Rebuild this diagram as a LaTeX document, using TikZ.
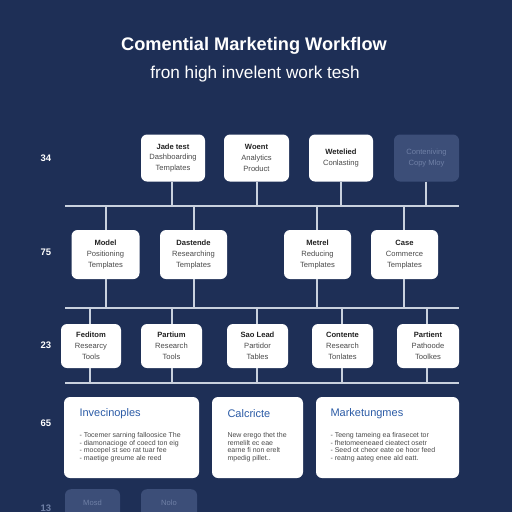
\documentclass[tikz,border=0pt]{standalone}
\usepackage{fontspec}
\setmainfont{Liberation Sans}
\usetikzlibrary{positioning}
\definecolor{bgnavy}{HTML}{1E2F56}
\definecolor{fadebox}{HTML}{3C4E78}
\definecolor{fadetext}{HTML}{6F80A6}
\definecolor{linegray}{HTML}{C9D1DE}
\definecolor{cardblue}{HTML}{2B5BA6}
\definecolor{darktext}{HTML}{222222}
\definecolor{bodygray}{HTML}{4A4A4A}
\tikzset{
  wbox/.style={draw=none, fill=white, rounded corners=6pt, inner sep=0pt},
  fbox/.style={draw=none, fill=fadebox, rounded corners=6pt, inner sep=0pt},
  btext/.style={align=center, font=\fontsize{7.6}{10.8}\selectfont, text=bodygray},
  ftext/.style={align=center, font=\fontsize{7.6}{10.8}\selectfont, text=fadetext},
  rowlabel/.style={font=\bfseries\fontsize{9.5}{10}\selectfont, text=white},
  conn/.style={draw=linegray, line width=1.1pt},
  cardtitle/.style={anchor=west, font=\fontsize{11}{12}\selectfont, text=cardblue},
  cardbody/.style={anchor=north west, align=left, font=\fontsize{7}{7.6}\selectfont, text=bodygray},
}
\newcommand{\hd}[1]{\textcolor{darktext}{\bfseries #1}}
\begin{document}
\begin{tikzpicture}[x=1pt,y=-1pt]
\fill[bgnavy] (0,0) rectangle (512,512);
\useasboundingbox (0,0) rectangle (512,512);

% title
\node[font=\bfseries\fontsize{18.2}{20}\selectfont, text=white] (title) at (254,46) {Comential Marketing Workflow};
\node[font=\fontsize{17.2}{19}\selectfont, text=white] (subtitle) at (255,74) {fron high invelent work tesh};

% row labels
\node[rowlabel] (l1) at (46,158) {34};
\node[rowlabel] (l2) at (46,252) {75};
\node[rowlabel] (l3) at (46,345) {23};
\node[rowlabel] (l4) at (46,423) {65};
\node[rowlabel, text=fadetext] (l5) at (46,508) {13};

% row 1
\node[wbox, minimum width=64pt, minimum height=47pt] (a1) at (173,158) {};
\node[btext] at (a1) {\hd{Jade test}\\Dashboarding\\Templates};
\node[wbox, minimum width=65pt, minimum height=47pt] (a2) at (256.5,158) {};
\node[btext] at (a2) {\hd{Woent}\\Analytics\\Product};
\node[wbox, minimum width=64pt, minimum height=47pt] (a3) at (341,158) {};
\node[btext] at (a3) {\hd{Wetelied}\\Conlasting};
\node[fbox, minimum width=65pt, minimum height=47pt] (a4) at (426.5,158) {};
\node[ftext] at (a4) {Conteniving\\Copy Mloy};

% bus 1
\coordinate (h1l) at (65,206); \coordinate (h1r) at (459,206);
\draw[conn] (h1l) -- (h1r);
\foreach \n/\x in {a1/172,a2/257,a3/341,a4/426}{
  \draw[conn] (\n.south -| \x,0) -- (\x,206);
}

% row 2
\node[wbox, minimum width=68pt, minimum height=49pt] (b1) at (105.5,254.5) {};
\node[btext] at (b1) {\hd{Model}\\Positioning\\Templates};
\node[wbox, minimum width=67pt, minimum height=49pt] (b2) at (193.5,254.5) {};
\node[btext] at (b2) {\hd{Dastende}\\Researching\\Templates};
\node[wbox, minimum width=67pt, minimum height=49pt] (b3) at (317.5,254.5) {};
\node[btext] at (b3) {\hd{Metrel}\\Reducing\\Templates};
\node[wbox, minimum width=67pt, minimum height=49pt] (b4) at (404.5,254.5) {};
\node[btext] at (b4) {\hd{Case}\\Commerce\\Templates};

\foreach \n/\x in {b1/106,b2/194,b3/317,b4/404}{
  \draw[conn] (\x,206) -- (\n.north -| \x,0);
  \draw[conn] (\n.south -| \x,0) -- (\x,308);
}

% bus 2
\coordinate (h2l) at (65,308); \coordinate (h2r) at (459,308);
\draw[conn] (h2l) -- (h2r);

% row 3
\node[wbox, minimum width=60pt, minimum height=44pt] (c1) at (91,346) {};
\node[btext] at (c1) {\hd{Feditom}\\Researcy\\Tools};
\node[wbox, minimum width=61pt, minimum height=44pt] (c2) at (171.5,346) {};
\node[btext] at (c2) {\hd{Partium}\\Research\\Tools};
\node[wbox, minimum width=61pt, minimum height=44pt] (c3) at (257.5,346) {};
\node[btext] at (c3) {\hd{Sao Lead}\\Partidor\\Tables};
\node[wbox, minimum width=61pt, minimum height=44pt] (c4) at (342.5,346) {};
\node[btext] at (c4) {\hd{Contente}\\Research\\Tonlates};
\node[wbox, minimum width=62pt, minimum height=44pt] (c5) at (428,346) {};
\node[btext] at (c5) {\hd{Partient}\\Pathoode\\Toolkes};

\foreach \n/\x in {c1/90,c2/172,c3/257,c4/342,c5/427}{
  \draw[conn] (\x,308) -- (\n.north -| \x,0);
  \draw[conn] (\n.south -| \x,0) -- (\x,383);
}

% bus 3
\coordinate (h3l) at (65,383); \coordinate (h3r) at (459,383);
\draw[conn] (h3l) -- (h3r);

% row 4 cards
\node[wbox, minimum width=135pt, minimum height=81pt] (d1) at (131.5,437.5) {};
\node[cardtitle] at (76,414) {Invecinoples};
\node[cardbody] at (76,429) {- Tocemer sarning falloosice The\\- diamonacioge of coecd ton eig\\- mocepel st seo rat tuar fee\\- maetige greume ale reed};
\node[wbox, minimum width=91pt, minimum height=81pt] (d2) at (257.5,437.5) {};
\node[cardtitle] at (224,414) {Calcricte};
\node[cardbody] at (224,429) {New erego thet the\\remelilt ec eae\\earne fi non erelt\\mpedig pillet..};
\node[wbox, minimum width=143pt, minimum height=81pt] (d3) at (387.5,437.5) {};
\node[cardtitle] at (327,414) {Marketungmes};
\node[cardbody] at (327,429) {- Teeng tameing ea firasecet tor\\- fhetomeeneaed cieatect osetr\\- Seed ot cheor eate oe hoor feed\\- reatng aateg enee ald eatt.};

% row 5 faded
\node[fbox, minimum width=55pt, minimum height=40pt, anchor=north] (e1) at (92.5,489) {};
\node[ftext, anchor=north] at (92.5,496) {Mosd};
\node[fbox, minimum width=56pt, minimum height=40pt, anchor=north] (e2) at (169,489) {};
\node[ftext, anchor=north] at (169,496) {Nolo};
\end{tikzpicture}
\end{document}
